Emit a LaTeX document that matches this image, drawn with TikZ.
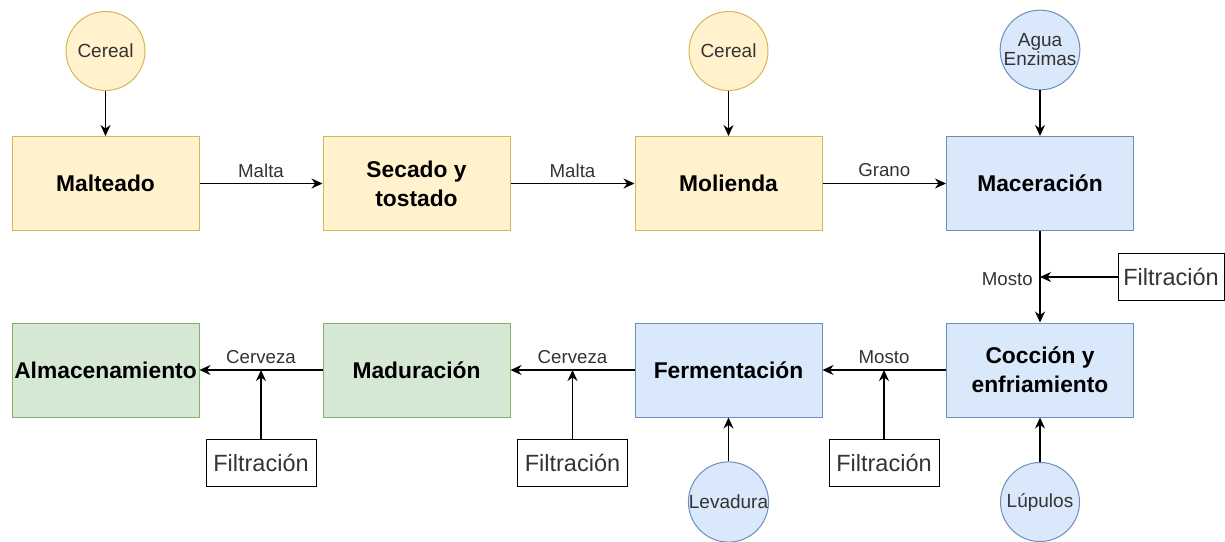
\documentclass[tikz,border=0pt]{standalone}
\usepackage{fontspec}
\setmainfont{Liberation Sans}
\usetikzlibrary{arrows.meta}
\definecolor{yf}{HTML}{FFF2CC}
\definecolor{ys}{HTML}{D6B656}
\definecolor{bf}{HTML}{DAE8FC}
\definecolor{bs}{HTML}{6C8EBF}
\definecolor{gf}{HTML}{D5E8D4}
\definecolor{gs}{HTML}{82B366}
\definecolor{tx}{HTML}{333333}
\begin{document}
\begin{tikzpicture}[x=1pt,y=-1pt,
  proc/.style={rectangle, minimum width=187pt, minimum height=94pt, inner sep=0pt, line width=1pt,
    font=\fontsize{22.8}{29}\selectfont\bfseries, align=center},
  yel/.style={proc, fill=yf, draw=ys},
  blu/.style={proc, fill=bf, draw=bs},
  grn/.style={proc, fill=gf, draw=gs},
  src/.style={circle, minimum size=79pt, inner sep=0pt, line width=1pt,
    font=\fontsize{19}{21}\selectfont, align=center, text=tx},
  ysrc/.style={src, fill=yf, draw=ys},
  bsrc/.style={src, fill=bf, draw=bs},
  filt/.style={rectangle, draw, line width=1pt, minimum width=110pt, minimum height=47pt,
    inner sep=0pt, font=\fontsize{23.5}{25}\selectfont, text=tx},
  flow/.style={-{Stealth[length=11pt,width=10pt]}, line width=1.4pt},
  lbl/.style={font=\fontsize{18.7}{20}\selectfont, text=tx, inner sep=1pt}
]
\useasboundingbox (0,0) rectangle (1225,541);

% process boxes
\node[yel] (malt) at (105.5,183.5) {Malteado};
\node[yel] (sec)  at (416.5,183.5) {Secado y\\tostado};
\node[yel] (mol)  at (728.5,183.5) {Molienda};
\node[blu] (mac)  at (1040,183.5) {Maceración};
\node[blu] (coc)  at (1040,370) {Cocción y\\enfriamiento};
\node[blu] (fer)  at (728.5,370) {Fermentación};
\node[grn] (mad)  at (416.5,370) {Maduración};
\node[grn] (alm)  at (105.5,370) {Almacenamiento};

% sources
\node[ysrc] (cer1) at (105.5,51) {Cereal};
\node[ysrc] (cer2) at (728.5,51) {Cereal};
\node[bsrc] (agua) at (1040,50) {Agua\\[-2pt]Enzimas};
\node[bsrc] (lev)  at (728.5,502) {Levadura};
\node[bsrc] (lup)  at (1040,502) {Lúpulos};

% filtration boxes
\node[filt, minimum width=106pt] (f1) at (1171,277) {Filtración};
\node[filt] (f2) at (884,462.5) {Filtración};
\node[filt] (f3) at (572.5,462.5) {Filtración};
\node[filt] (f4) at (261,462.5) {Filtración};

% junctions
\coordinate (j1) at (mac.south |- f1.west);
\coordinate (j2) at (f2.north |- coc.west);
\coordinate (j3) at (f3.north |- fer.west);
\coordinate (j4) at (f4.north |- mad.west);

% source arrows
\draw[flow] (cer1) -- (malt);
\draw[flow] (cer2) -- (mol);
\draw[flow] (agua) -- (mac);
\draw[flow] (lev) -- (fer);
\draw[flow] (lup) -- (coc);

% main flow
\draw[flow] (malt) -- (sec) node[lbl, midway, yshift=13pt] {Malta};
\draw[flow] (sec) -- (mol) node[lbl, midway, yshift=13pt] {Malta};
\draw[flow] (mol) -- (mac) node[lbl, midway, yshift=13pt] {Grano};
\draw[flow] (mac) -- (coc);
\draw[flow] (coc) -- (fer);
\draw[flow] (fer) -- (mad);
\draw[flow] (mad) -- (alm);

% filtration arrows
\draw[flow] (f1) -- (j1);
\draw[flow] (f2) -- (j2);
\draw[flow] (f3) -- (j3);
\draw[flow] (f4) -- (j4);

% junction labels
\node[lbl, anchor=east, xshift=-6pt, yshift=-2pt] at (j1) {Mosto};
\node[lbl, yshift=13pt] at (j2) {Mosto};
\node[lbl, yshift=13pt] at (j3) {Cerveza};
\node[lbl, yshift=13pt] at (j4) {Cerveza};
\end{tikzpicture}
\end{document}
